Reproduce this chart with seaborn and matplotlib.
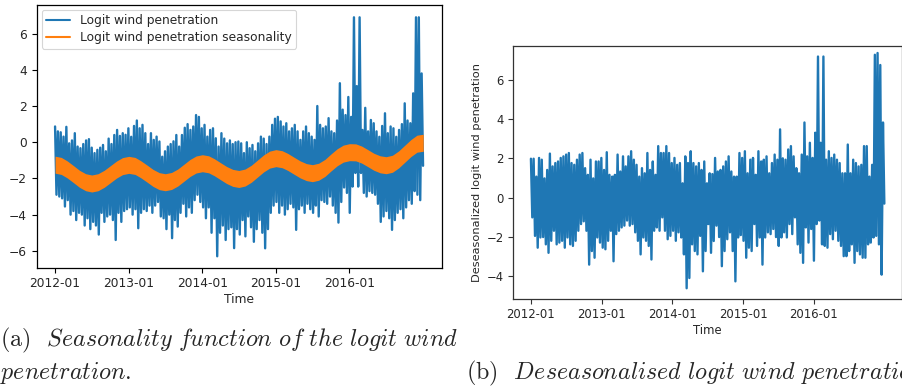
import numpy as np
import pandas as pd
import matplotlib
matplotlib.use("Agg")
import matplotlib.pyplot as plt
from matplotlib.lines import Line2D
from matplotlib.ticker import MultipleLocator
import seaborn as sns

# Hourly series summarised as high / low envelope every ~2 weeks
logit_hi = [0.87, 0.6, 0.55, 0.31, 0.85, -0.06, 0.1, 0.5, -0.24, -0.33,
            -0.1, 0.1, 0.17, -0.3, -0.6, -0.42, -0.3, -0.15, -0.5, 0.2,
            -0.1, 0.4, 0.68, 0.35, 0.5, 0.41, 0.77, 0.3, 0.9, 1.2,
            0.77, 0.96, 0.5, -0.1, 0.5, 0.13, 0.31, 0.04, -0.8, -0.5,
            -0.24, -0.1, 0.05, 0.4, -0.24, 0.4, 0.8, 1.0, 0.68, 0.87,
            1.5, 1.4, 0.77, 0.96, 0.31, 0.68, 0.77, 0.22, -0.24, 0.5,
            0.2, -0.06, 0.1, -0.1, 0.0, 0.04, -0.06, -0.6, 0.0, -0.33,
            -0.15, -0.5, -0.06, 0.31, 0.2, -0.1, 0.31, 0.96, 1.3, 1.4,
            1.15, 0.87, 1.05, 0.6, 0.77, 0.96, 0.6, 0.13, 0.6, 0.87,
            0.5, 0.31, 0.13, 2.0, 0.96, 0.77, 0.87, 1.33, 0.6, 0.5,
            1.2, 3.26, 1.8, 1.5, 2.5, 1.4, 6.9, 3.1, 6.9, 0.68,
            1.9, 0.6, 1.23, 1.05, 0.6, 0.3, 0.9, 1.6, 0.5, 0.87,
            0.77, 0.3, 0.68, 1.0, 2.15, 1.2, 1.05, 2.7, 6.9, 6.9,
            3.8]
logit_lo = [-2.9, -3.0, -3.1, -3.55, -3.2, -4.0, -3.8, -4.3, -3.9, -4.0,
            -4.6, -4.2, -4.8, -4.4, -4.6, -5.1, -3.9, -4.4, -4.1, -4.0,
            -4.3, -5.4, -3.9, -4.4, -3.8, -3.7, -3.6, -4.0, -3.7, -4.75,
            -3.9, -3.7, -3.8, -3.5, -3.9, -3.5, -3.3, -4.1, -4.2, -4.8,
            -4.0, -5.3, -4.3, -4.66, -3.9, -3.4, -4.1, -3.6, -3.9, -3.2,
            -2.9, -3.3, -3.6, -4.2, -3.6, -5.0, -4.2, -6.3, -5.0, -4.6,
            -5.4, -4.8, -4.7, -5.85, -4.8, -5.1, -4.3, -5.2, -4.1, -4.7,
            -5.5, -4.8, -4.3, -5.0, -5.86, -4.8, -3.9, -3.5, -3.3, -3.9,
            -3.5, -4.0, -3.7, -3.4, -3.6, -4.84, -3.7, -3.5, -3.9, -3.4,
            -3.7, -3.9, -3.5, -4.1, -3.2, -3.3, -3.4, -3.0, -3.5, -3.9,
            -4.44, -3.3, -2.5, -2.8, -3.9, -2.45, -1.7, -2.45, -1.7, -2.8,
            -3.0, -2.7, -2.8, -2.9, -3.4, -4.4, -4.1, -3.8, -4.2, -4.84,
            -4.3, -3.9, -3.7, -4.2, -3.6, -3.2, -3.4, -2.7, -2.9, -3.2,
            -1.3]

# Seasonality: monthly upper / lower edge of the orange band (2012-01 .. 2017-01)
season_hi = [-0.77, -0.84, -1.03, -1.29, -1.55, -1.74, -1.81, -1.74, -1.55, -1.30,
             -1.04, -0.85, -0.78, -0.84, -1.02, -1.26, -1.50, -1.68, -1.74, -1.67,
             -1.48, -1.22, -0.95, -0.76, -0.69, -0.75, -0.91, -1.13, -1.34, -1.50,
             -1.56, -1.48, -1.27, -0.99, -0.70, -0.49, -0.41, -0.47, -0.62, -0.83,
             -1.03, -1.18, -1.24, -1.16, -0.95, -0.65, -0.36, -0.16, -0.08, -0.09,
             -0.21, -0.41, -0.61, -0.75, -0.80, -0.72, -0.48, -0.17, 0.15, 0.39,
             0.44]
season_lo = [-1.71, -1.78, -1.97, -2.23, -2.49, -2.68, -2.75, -2.68, -2.49, -2.24,
             -1.98, -1.79, -1.72, -1.78, -1.96, -2.20, -2.44, -2.62, -2.68, -2.61,
             -2.42, -2.16, -1.89, -1.70, -1.63, -1.69, -1.85, -2.07, -2.28, -2.44,
             -2.50, -2.42, -2.21, -1.93, -1.64, -1.43, -1.35, -1.41, -1.56, -1.77,
             -1.97, -2.12, -2.18, -2.10, -1.89, -1.59, -1.30, -1.10, -1.02, -1.03,
             -1.15, -1.35, -1.55, -1.69, -1.74, -1.66, -1.42, -1.11, -0.79, -0.55,
             -0.50]

# Deseasonalised series, same two-week envelope
deseas_hi = [1.98, 1.98, 1.07, 2.02, 1.93, 0.98, 1.41, 2.24, 1.59, 1.76,
             1.84, 2.02, 2.10, 2.19, 2.27, 1.76, 1.67, 1.93, 2.19, 2.27,
             1.5, 1.16, 1.93, 0.98, 1.84, 1.84, 2.02, 1.41, 2.31, 1.16,
             1.07, 1.16, 2.19, 1.33, 2.10, 1.59, 2.10, 2.36, 1.93, 1.67,
             1.07, 1.50, 1.24, 2.27, 1.41, 1.84, 1.16, 2.62, 2.27, 2.27,
             2.62, 2.27, 1.76, 2.02, 1.67, 1.76, 0.73, 2.10, 1.76, 2.36,
             1.76, 1.59, 1.76, 1.41, 1.84, 0.73, 1.24, 1.2, 2.02, 1.33,
             1.41, 1.59, 1.84, 2.10, 1.33, 1.07, 1.07, 2.27, 2.02, 2.36,
             1.24, 1.93, 2.02, 1.16, 2.36, 1.84, 1.93, 2.10, 1.24, 1.76,
             2.19, 1.93, 3.47, 2.0, 1.93, 2.45, 2.62, 2.10, 1.50, 1.24,
             2.19, 3.82, 2.10, 2.79, 2.02, 3.3, 7.17, 2.79, 7.17, 1.93,
             2.36, 2.02, 2.19, 1.93, 1.76, 1.24, 1.24, 2.70, 1.24, 1.93,
             1.76, 1.59, 1.67, 2.62, 2.62, 1.07, 1.67, 7.26, 7.35, 6.74,
             3.82]
deseas_lo = [-1.0, -1.94, -2.54, -2.02, -2.0, -2.37, -2.80, -2.19, -1.68, -2.37,
             -2.28, -2.19, -2.54, -2.02, -2.37, -2.45, -2.19, -1.68, -1.34, -1.2,
             -1.68, -3.40, -2.71, -3.05, -2.02, -2.28, -2.54, -2.62, -2.19, -1.68,
             -3.23, -1.85, -1.68, -1.51, -1.42, -1.16, -1.42, -1.34, -1.76, -2.19,
             -2.88, -2.02, -2.19, -2.45, -3.14, -1.68, -1.51, -1.68, -1.0, -1.68,
             -2.11, -1.94, -1.68, -2.19, -1.76, -2.02, -2.88, -4.6, -4.08, -2.37,
             -2.71, -2.88, -1.94, -3.74, -2.71, -1.34, -2.80, -2.2, -1.42, -2.0,
             -3.48, -2.71, -2.11, -1.76, -2.71, -4.25, -2.02, -1.9, -2.19, -3.05,
             -2.54, -2.71, -1.34, -2.45, -2.02, -3.40, -2.02, -1.76, -1.85, -1.59,
             -2.0, -2.45, -2.02, -1.76, -2.02, -1.34, -1.85, -1.0, -2.37, -2.80,
             -3.31, -1.51, -2.28, -1.59, -3.2, -1.34, -1.16, -2.37, -2.45, -2.54,
             -1.85, -2.11, -1.68, -2.19, -2.45, -2.97, -2.97, -2.71, -2.37, -3.31,
             -2.71, -2.88, -3.05, -3.05, -2.37, -2.28, -2.02, -1.94, -2.37, -3.91,
             -0.3]

tick_labels = ["2012-01", "2013-01", "2014-01", "2015-01", "2016-01"]

BLUE = "#1f77b4"
ORANGE = "#ff7f0e"


def zigzag(hi, lo):
    """Alternate high and low values so the line fills the envelope like the hourly data."""
    t = pd.date_range("2012-01-01", "2016-12-31", periods=2 * len(hi))
    return pd.DataFrame({"Time": t, "value": np.column_stack([hi, lo]).ravel()})


def style_axis(ax, labelsize, edge):
    ax.set_xticks(pd.to_datetime(tick_labels))
    ax.set_xticklabels(tick_labels)
    ax.yaxis.set_major_locator(MultipleLocator(2))
    ax.tick_params(labelsize=labelsize, length=3.5, width=0.8, color=edge)
    for s in ax.spines.values():
        s.set_color(edge)
        s.set_linewidth(0.9)


sns.set_theme(style="ticks", context="paper")
plt.rcParams["font.family"] = ["DejaVu Sans"]
plt.rcParams["mathtext.fontset"] = "cm"

fig = plt.figure(figsize=(9.03, 3.88), dpi=100)

# (a) raw logit series with its seasonality
ax1 = fig.add_axes([0.0406, 0.3101, 0.4485, 0.677])
sns.lineplot(data=zigzag(logit_hi, logit_lo), x="Time", y="value", ax=ax1,
             color=BLUE, linewidth=1.7, estimator=None)
months = pd.date_range("2012-01-01", "2017-01-01", freq="MS")
ax1.fill_between(months, season_lo, season_hi, color=ORANGE, linewidth=0, zorder=3)
ax1.set_ylim(-6.93, 7.58)
ax1.set_xlabel("Time", fontsize=8.8, labelpad=2)
ax1.set_ylabel("")
style_axis(ax1, 8.8, "black")
handles = [Line2D([], [], color=BLUE, lw=1.5), Line2D([], [], color=ORANGE, lw=1.5)]
ax1.legend(handles, ["Logit wind penetration", "Logit wind penetration seasonality"],
           loc="upper left", fontsize=8.8, frameon=True, fancybox=True,
           edgecolor="#cccccc", framealpha=0.8, handlelength=2.0,
           borderaxespad=0.4, borderpad=0.35, labelspacing=0.35)

# (b) deseasonalised series
ax2 = fig.add_axes([0.5684, 0.2302, 0.4305, 0.652])
sns.lineplot(data=zigzag(deseas_hi, deseas_lo), x="Time", y="value", ax=ax2,
             color=BLUE, linewidth=1.7, estimator=None)
ax2.set_ylim(-5.13, 7.72)
ax2.set_xlabel("Time", fontsize=8.4, labelpad=2)
ax2.set_ylabel("Deseasonalized logit wind penetration", fontsize=8.2, labelpad=3)
style_axis(ax2, 8.4, "#333333")

# subfigure captions
fig.text(0.0, 1 - 340 / 388, r"(a)  $\mathit{Seasonality\ function\ of\ the\ logit\ wind}$",
         fontfamily="cmr10", fontsize=17.3, va="center", ha="left")
fig.text(0.0, 1 - 373 / 388, r"$\mathit{penetration.}$",
         fontfamily="cmr10", fontsize=17.3, va="center", ha="left")
fig.text(466 / 903, 1 - 373 / 388, r"(b)  $\mathit{Deseasonalised\ logit\ wind\ penetration.}$",
         fontfamily="cmr10", fontsize=17.3, va="center", ha="left")

fig.savefig("out.png", dpi=100)
